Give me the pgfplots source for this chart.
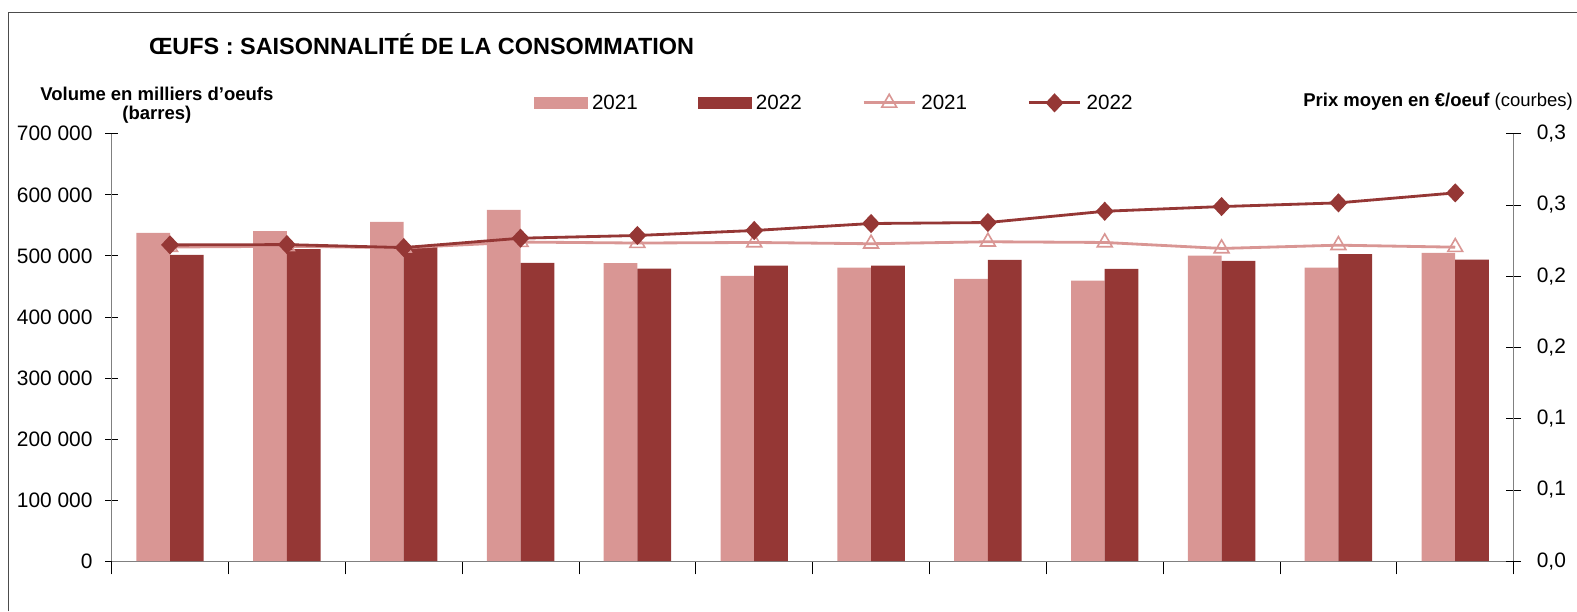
\documentclass[border=0pt]{standalone}
\usepackage{pgfplots}
\pgfplotsset{compat=1.18}
\usepackage{fontspec}
\setmainfont{Liberation Sans}
\definecolor{pinkbar}{HTML}{D99694}
\definecolor{darkbar}{HTML}{953735}
\pgfplotsset{
  mylinelegend/.style={legend image code/.code={\draw[mark repeat=2,mark phase=2,##1] plot coordinates {(0bp,0bp) (25.5bp,0bp) (51bp,0bp)};}},
  pinklegend/.style={legend image code/.code={\fill[pinkbar] (0bp,-5.5bp) rectangle (52bp,5.5bp);}},
  darklegend/.style={legend image code/.code={\fill[darkbar] (0bp,-5.5bp) rectangle (52bp,5.5bp);}},
}
\begin{document}
\begin{tikzpicture}[x=1bp,y=1bp]
\path[use as bounding box] (0,0) rectangle (1568,608);
\draw[black!70, line width=1bp] (8,0) -- (8,596) -- (1568,596);
\node[anchor=west, inner sep=0, font=\fontsize{23.3bp}{28bp}\selectfont\bfseries] at (148,564) {ŒUFS : SAISONNALITÉ DE LA CONSOMMATION};
\node[align=center, inner sep=0, font=\fontsize{18.4bp}{19bp}\selectfont\bfseries] at (156,503) {Volume en milliers d'oeufs\\(barres)};
\node[anchor=east, font=\fontsize{18.4bp}{22bp}\selectfont, inner sep=0] at (1564,507) {\textbf{Prix moyen en €/oeuf} (courbes)};

\begin{axis}[at={(111bp,50bp)}, anchor=south west, scale only axis, width=1394bp, height=425bp,
 xmin=0.5, xmax=12.5, ymin=0, ymax=700000, scaled y ticks=false,
 axis y line*=left, axis x line*=bottom,
 axis line style={-, gray, line width=1bp},
 xtick={0.5,1.5,...,12.5}, xticklabels={},
 ytick={0,100000,200000,300000,400000,500000,600000,700000},
 yticklabels={0,100 000,200 000,300 000,400 000,500 000,600 000,700 000},
 tick align=center, major tick length=13bp, tick style={black, line width=0.8bp},
 ticklabel style={font=\fontsize{20.8bp}{24bp}\selectfont},
 yticklabel style={xshift=-9bp},
 ybar=0pt, bar width=33.5bp,
]
\addplot[fill=pinkbar, draw=none] coordinates {(1,537700) (2,540400) (3,555800) (4,575400) (5,488000) (6,467300) (7,480900) (8,462400) (9,459600) (10,500600) (11,480900) (12,505000)};
\addplot[fill=darkbar, draw=none] coordinates {(1,501700) (2,510900) (3,514200) (4,488600) (5,479300) (6,484200) (7,484200) (8,493500) (9,478800) (10,491900) (11,502700) (12,494000)};
\end{axis}

\begin{axis}[at={(111bp,50bp)}, anchor=south west, scale only axis, width=1394bp, height=425bp,
 xmin=0.5, xmax=12.5, ymin=0, ymax=0.3,
 axis x line=none, axis y line*=right,
 axis line style={-, gray, line width=1bp},
 ytick={0,0.05,0.1,0.15,0.2,0.25,0.3},
 yticklabels={{0,0},{0,1},{0,1},{0,2},{0,2},{0,3},{0,3}},
 tick align=center, major tick length=15bp, tick style={black, line width=0.8bp},
 ticklabel style={font=\fontsize{20.8bp}{24bp}\selectfont},
 yticklabel style={xshift=12bp},
 legend columns=4,
 legend style={at={(0.3013,1.073)}, anchor=west, draw=none, fill=none, inner sep=0pt,
   font=\fontsize{20.5bp}{24bp}\selectfont,
   nodes={inner xsep=5bp, inner ysep=0pt},
   /tikz/every even column/.append style={column sep=55bp}},
]
\addlegendimage{pinklegend}
\addlegendentry{2021}
\addlegendimage{darklegend}
\addlegendentry{2022}
\addplot[pinkbar, line width=2.8bp, mark=triangle, mark size=8.5bp, mark options={fill=white, line width=1.6bp}, mylinelegend]
 coordinates {(1,0.2205) (2,0.2210) (3,0.2200) (4,0.2240) (5,0.2233) (6,0.2237) (7,0.2228) (8,0.2242) (9,0.2237) (10,0.2195) (11,0.2218) (12,0.2204)};
\addlegendentry{2021}
\addplot[darkbar, line width=2.8bp, mark=diamond*, mark size=7.5bp, mark options={xscale=1.25}, mylinelegend]
 coordinates {(1,0.2220) (2,0.2222) (3,0.2201) (4,0.2267) (5,0.2286) (6,0.2321) (7,0.2370) (8,0.2377) (9,0.2456) (10,0.2489) (11,0.2515) (12,0.2585)};
\addlegendentry{2022}
\end{axis}
\end{tikzpicture}
\end{document}
